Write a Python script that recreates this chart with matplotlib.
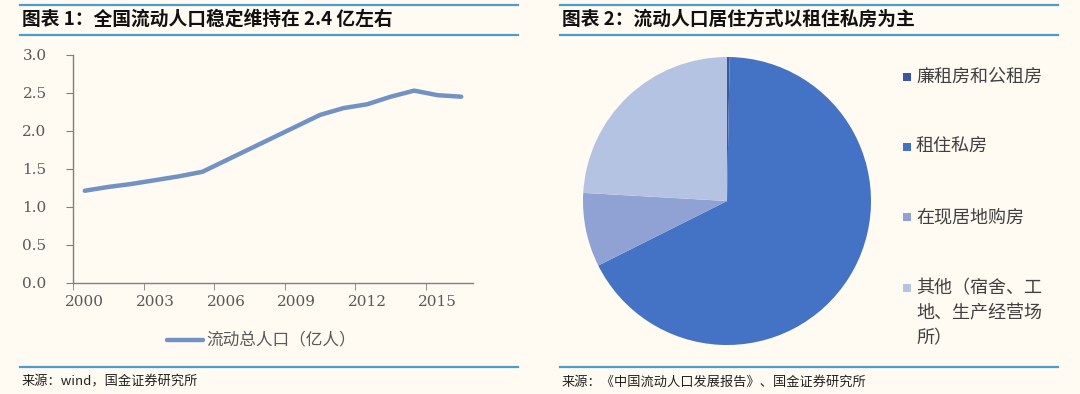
import matplotlib
matplotlib.use("Agg")
import matplotlib.pyplot as plt
from matplotlib.patches import Rectangle
from matplotlib.lines import Line2D

plt.rcParams['font.family'] = ['Noto Sans CJK SC', 'DejaVu Sans']

# ---- data ----
years = list(range(2000, 2017))
population = [1.21, 1.26, 1.30, 1.35, 1.40, 1.46, 1.61, 1.76, 1.91, 2.06, 2.21,
              2.30, 2.35, 2.45, 2.53, 2.47, 2.45]
year_labels = ['2000', '2003', '2006', '2009', '2012', '2015']
line_label = '流动总人口（亿人）'

pie_labels = ['廉租房和公租房', '租住私房', '在现居地购房', '其他（宿舍、工\n地、生产经营场\n所）']
pie_values = [0.3, 67.3, 8.3, 24.1]
pie_colors = ['#3B57A2', '#4472C4', '#8FA2D3', '#B5C3E3']

title1 = '图表 1：全国流动人口稳定维持在 2.4 亿左右'
title2 = '图表 2：流动人口居住方式以租住私房为主'
source1 = '来源：wind，国金证券研究所'
source2 = '来源：《中国流动人口发展报告》、国金证券研究所'

BG = '#FFFBF2'
RULE = '#4E9CC9'
W, H = 1080, 394

fig = plt.figure(figsize=(W / 100, H / 100), dpi=100, facecolor=BG)

def fx(px):
    return px / W

def fy(py):
    return 1 - py / H

# ---- header / footer rules ----
for x0, x1 in [(20, 518), (560, 1058)]:
    for yy in [4.5, 34.5, 367]:
        fig.add_artist(Line2D([fx(x0), fx(x1)], [fy(yy), fy(yy)], color=RULE, lw=1.6,
                              transform=fig.transFigure))

fig.text(fx(22), fy(19.5), title1, fontsize=13.5, fontweight='bold', color='#111111',
         va='center', ha='left', style='italic')
fig.text(fx(562), fy(19.5), title2, fontsize=13.5, fontweight='bold', color='#111111',
         va='center', ha='left', style='italic')
fig.text(fx(22), fy(382), source1, fontsize=9.5, color='#222222', va='center', ha='left')
fig.text(fx(562), fy(382), source2, fontsize=9.5, color='#222222', va='center', ha='left')

# ---- line chart ----
ax = fig.add_axes([fx(73), fy(282.5), fx(473) - fx(73), fy(55) - fy(282.5)])
ax.set_facecolor(BG)
ax.plot(years, population, color='#7292C6', lw=3.2, solid_capstyle='round')
ax.set_xlim(1999.5, 2016.5)
ax.set_ylim(0, 3.0)
ax.set_yticks([0, 0.5, 1.0, 1.5, 2.0, 2.5, 3.0])
ax.set_yticklabels(['0.0', '0.5', '1.0', '1.5', '2.0', '2.5', '3.0'],
                   fontfamily='DejaVu Serif', fontsize=11, color='#595959')
ax.set_xticks([int(l) for l in year_labels])
ax.set_xticklabels(year_labels, fontfamily='DejaVu Serif', fontsize=11, color='#595959')
ax.set_xticks([1999.5, 2002.5, 2005.5, 2008.5, 2011.5, 2014.5], minor=True)
ax.tick_params(axis='x', which='major', length=0, pad=9)
ax.tick_params(axis='x', which='minor', length=5, color='#808080', direction='out')
ax.tick_params(axis='y', length=5, color='#808080', direction='out', pad=14)
for s in ['top', 'right']:
    ax.spines[s].set_visible(False)
for s in ['left', 'bottom']:
    ax.spines[s].set_color('#808080')
    ax.spines[s].set_linewidth(1.0)

# line legend
fig.add_artist(Line2D([fx(167), fx(203)], [fy(340), fy(340)], color='#7292C6', lw=3.2,
                      solid_capstyle='round', transform=fig.transFigure))
fig.text(fx(206), fy(340), line_label, fontsize=12, color='#595959', va='center', ha='left')

# ---- pie chart ----
r = 144
cx, cy = 727, 201
pax = fig.add_axes([fx(cx - r), fy(cy + r), 2 * r / W, 2 * r / H])
pax.pie(pie_values, colors=pie_colors, startangle=90, counterclock=False,
        wedgeprops=dict(linewidth=0))
pax.set_xlim(-1, 1)
pax.set_ylim(-1, 1)
pax.set_aspect('auto')
pax.axis('off')

# pie legend
leg_y = [77, 147, 217, 288]
for yy, lab, col in zip(leg_y, pie_labels, pie_colors):
    fig.add_artist(Rectangle((fx(903), fy(yy + 4)), 8 / W, 8 / H, facecolor=col,
                             edgecolor='none', transform=fig.transFigure))
    for i, part in enumerate(lab.split('\n')):
        fig.text(fx(916), fy(yy + i * 25), part, fontsize=13, color='#404040',
                 va='center', ha='left')

fig.savefig('out.png', dpi=100, facecolor=BG)
